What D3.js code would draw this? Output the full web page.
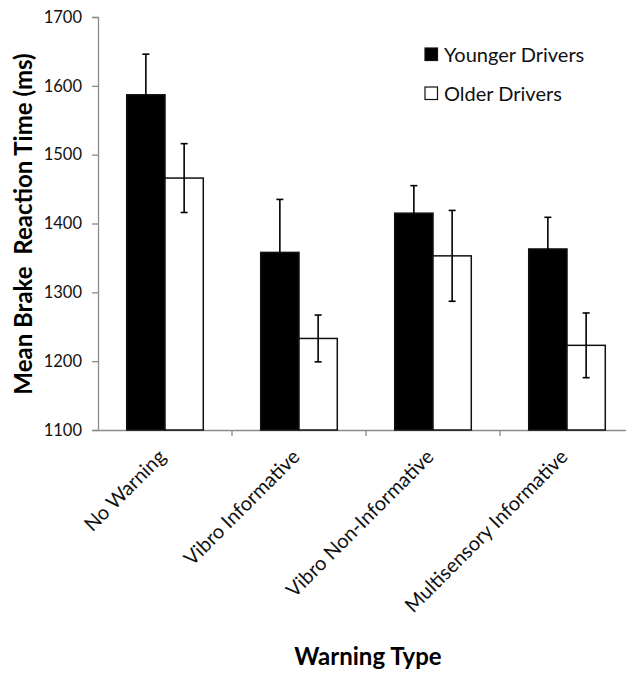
<!DOCTYPE html>
<html>
<head>
<meta charset="utf-8">
<script src="https://cdn.jsdelivr.net/npm/d3@7"></script>
<style>
  body { margin: 0; background: #fff; }
  text { font-family: Lato, "Open Sans", sans-serif; }
</style>
</head>
<body>
<div id="chart"></div>
<script>
// data
var categories = ["No Warning", "Vibro Informative", "Vibro Non-Informative", "Multisensory Informative"];
var groups = ["Younger Drivers", "Older Drivers"];
var younger = [1587, 1358, 1415, 1363];
var youngerErr = [59, 77, 40, 46];
var older = [1466, 1233, 1353, 1223];
var olderErr = [50, 34, 66, 47];
var yTicks = [1100, 1200, 1300, 1400, 1500, 1600, 1700];

var width = 626, height = 673;

var svg = d3.select("#chart")
    .append("svg")
    .attr("width", width)
    .attr("height", height);

var x = d3.scaleBand()
    .domain(categories)
    .range([98, 634])
    .paddingInner(0)
    .paddingOuter(0);

var xInner = d3.scaleBand()
    .domain(groups)
    .range([0, x.bandwidth()])
    .paddingInner(0)
    .paddingOuter(0.75);

var y = d3.scaleLinear()
    .domain([1100, 1700])
    .range([430, 17]);

// y axis
var yAxis = svg.append("g")
    .attr("transform", "translate(98,0)")
    .call(d3.axisLeft(y).tickValues(yTicks).tickSize(6).tickPadding(10).tickFormat(d3.format("d")));
yAxis.selectAll("path, line").attr("stroke", "#8c8c8c").attr("stroke-width", 1.3);
yAxis.selectAll("text").attr("font-size", 16.5).attr("fill", "#111")
    .style("font-family", "Lato, sans-serif");

// x axis
var xAxis = svg.append("g")
    .attr("transform", "translate(0,430)")
    .call(d3.axisBottom(x).tickSize(0).tickFormat(""));
xAxis.select(".domain").attr("stroke", "#8c8c8c").attr("stroke-width", 1.3);
// boundary ticks between categories
xAxis.selectAll(".sep")
    .data(categories.slice(1))
    .enter()
    .append("line")
    .attr("x1", function (d) { return x(d); })
    .attr("x2", function (d) { return x(d); })
    .attr("y1", 0)
    .attr("y2", 6)
    .attr("stroke", "#8c8c8c")
    .attr("stroke-width", 1.3);

// category labels
svg.append("g")
    .selectAll("text")
    .data(categories)
    .enter()
    .append("text")
    .attr("transform", function (d) {
        return "translate(" + (x(d) + x.bandwidth() / 2 + 2) + ",458) rotate(-45)";
    })
    .attr("text-anchor", "end")
    .attr("font-size", 20)
    .attr("fill", "#111")
    .text(function (d) { return d; });

// bars
var rows = categories.map(function (c, i) {
    return [
        { cat: c, grp: groups[0], v: younger[i], e: youngerErr[i] },
        { cat: c, grp: groups[1], v: older[i], e: olderErr[i] }
    ];
});

var g = svg.append("g")
    .selectAll("g")
    .data(rows)
    .enter()
    .append("g")
    .attr("transform", function (d) { return "translate(" + x(d[0].cat) + ",0)"; });

g.selectAll("rect")
    .data(function (d) { return d; })
    .enter()
    .append("rect")
    .attr("x", function (d) { return xInner(d.grp); })
    .attr("y", function (d) { return y(d.v); })
    .attr("width", xInner.bandwidth())
    .attr("height", function (d) { return y(1100) - y(d.v); })
    .attr("fill", function (d) { return d.grp == groups[0] ? "#000" : "#fff"; })
    .attr("stroke", "#111")
    .attr("stroke-width", 1.5);

// error bars
var err = g.selectAll(".err")
    .data(function (d) { return d; })
    .enter()
    .append("g")
    .attr("class", "err")
    .attr("stroke", "#000")
    .attr("stroke-width", 1.6);

err.append("line")
    .attr("x1", function (d) { return xInner(d.grp) + xInner.bandwidth() / 2; })
    .attr("x2", function (d) { return xInner(d.grp) + xInner.bandwidth() / 2; })
    .attr("y1", function (d) { return y(d.v + d.e); })
    .attr("y2", function (d) { return y(d.v - d.e); });
err.append("line")
    .attr("x1", function (d) { return xInner(d.grp) + xInner.bandwidth() / 2 - 3.5; })
    .attr("x2", function (d) { return xInner(d.grp) + xInner.bandwidth() / 2 + 3.5; })
    .attr("y1", function (d) { return y(d.v + d.e); })
    .attr("y2", function (d) { return y(d.v + d.e); });
err.append("line")
    .attr("x1", function (d) { return xInner(d.grp) + xInner.bandwidth() / 2 - 3.5; })
    .attr("x2", function (d) { return xInner(d.grp) + xInner.bandwidth() / 2 + 3.5; })
    .attr("y1", function (d) { return y(d.v - d.e); })
    .attr("y2", function (d) { return y(d.v - d.e); });

// legend
var legend = svg.append("g")
    .selectAll("g")
    .data(groups)
    .enter()
    .append("g")
    .attr("transform", function (d, i) { return "translate(425," + (48 + i * 39) + ")"; });
legend.append("rect")
    .attr("width", 12.5)
    .attr("height", 12.5)
    .attr("fill", function (d, i) { return i == 0 ? "#000" : "#fff"; })
    .attr("stroke", "#111")
    .attr("stroke-width", 1.2);
legend.append("text")
    .attr("x", 19)
    .attr("y", 13.5)
    .attr("font-size", 20)
    .attr("fill", "#111")
    .text(function (d) { return d; });

// axis titles
svg.append("text")
    .attr("transform", "translate(32,224) rotate(-90)")
    .attr("text-anchor", "middle")
    .attr("font-size", 24)
    .attr("font-weight", "bold")
    .attr("fill", "#000")
    .style("white-space", "pre")
    .attr("xml:space", "preserve")
    .text("Mean Brake  Reaction Time (ms)");

svg.append("text")
    .attr("x", 368)
    .attr("y", 665)
    .attr("text-anchor", "middle")
    .attr("font-size", 24)
    .attr("font-weight", "bold")
    .attr("fill", "#000")
    .text("Warning Type");
</script>
</body>
</html>
